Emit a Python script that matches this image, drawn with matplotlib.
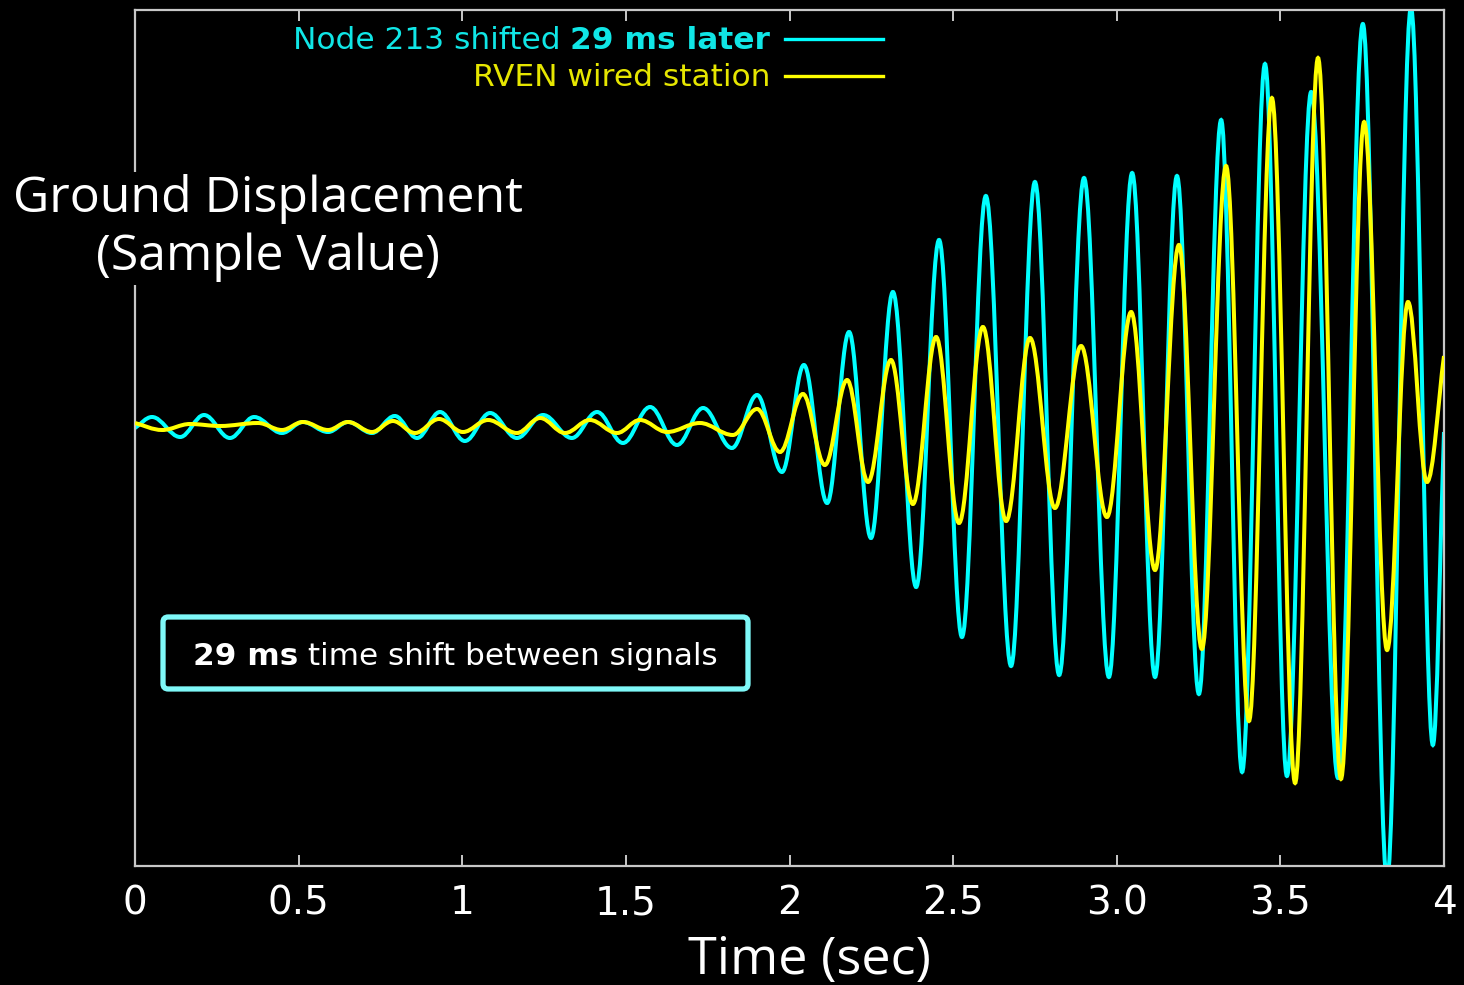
import matplotlib
matplotlib.use('Agg')
import matplotlib.pyplot as plt
from matplotlib.path import Path
from matplotlib.patches import PathPatch, FancyBboxPatch

# ---- data: extrema (peaks / troughs) ----
node_t = [0.000, 0.052, 0.138, 0.211, 0.290, 0.364, 0.449, 0.513, 0.590, 0.651,
          0.724, 0.794, 0.862, 0.932, 1.008, 1.085, 1.167, 1.247, 1.335, 1.412,
          1.491, 1.574, 1.656, 1.736, 1.824, 1.901, 1.977, 2.044, 2.115, 2.182,
          2.249, 2.316, 2.387, 2.457, 2.527, 2.600, 2.677, 2.750, 2.824, 2.900,
          2.976, 3.047, 3.117, 3.184, 3.251, 3.319, 3.383, 3.453, 3.520, 3.594,
          3.676, 3.752, 3.826, 3.899, 3.966, 4.000]
node_v = [-3, 8, -12, 10, -13, 8, -8, 3, -7, 3,
          -8, 9, -13, 13, -16, 12, -13, 10, -13, 13,
          -18, 18, -20, 17, -23, 30, -47, 60, -78, 93,
          -113, 133, -162, 185, -212, 229, -241, 243, -250, 247,
          -252, 252, -252, 249, -269, 305, -347, 361, -351, 333,
          -353, 401, -455, 417, -320, -7]

rven_t = [0.000, 0.083, 0.168, 0.260, 0.376, 0.449, 0.513, 0.590, 0.651, 0.724,
          0.788, 0.856, 0.929, 1.002, 1.079, 1.167, 1.238, 1.314, 1.390, 1.473,
          1.543, 1.626, 1.726, 1.827, 1.901, 1.971, 2.041, 2.108, 2.176, 2.240,
          2.310, 2.377, 2.448, 2.518, 2.591, 2.662, 2.735, 2.811, 2.891, 2.970,
          3.044, 3.117, 3.190, 3.260, 3.334, 3.404, 3.474, 3.545, 3.615, 3.685,
          3.756, 3.826, 3.890, 3.948, 4.000]
rven_v = [2, -5, 1, -1, 2, -5, 3, -5, 3, -7,
          4, -8, 6, -7, 5, -8, 7, -8, 5, -8,
          5, -7, 2, -10, 16, -27, 31, -40, 45, -57,
          65, -79, 88, -98, 98, -96, 87, -83, 79, -92,
          113, -145, 180, -224, 259, -296, 327, -358, 367, -354,
          303, -225, 123, -57, 69]

xticks = [0, 0.5, 1, 1.5, 2, 2.5, 3, 3.5, 4]
xticklabels = ['0', '0.5', '1', '1.5', '2', '2.5', '3.0', '3.5', '4']

label_node = ('Node 213 shifted ', '29 ms later')
label_rven = 'RVEN wired station'
note_bold = '29 ms'
note_rest = ' time shift between signals'

CYAN = '#00FFFF'
YELLOW = '#FFFF00'


def extrema_path(t, v, k=0.364):
    """Smooth Bezier path through successive extrema (flat tangents)."""
    verts = [(t[0], v[0])]
    codes = [Path.MOVETO]
    n = len(t)
    for i in range(n - 1):
        dt = t[i + 1] - t[i]
        if i == 0:
            c1 = (t[i] + dt / 3, v[i] + (v[i + 1] - v[i]) / 3)
        else:
            c1 = (t[i] + k * dt, v[i])
        if i == n - 2:
            c2 = (t[i + 1] - dt / 3, v[i + 1] - (v[i + 1] - v[i]) / 3)
        else:
            c2 = (t[i + 1] - k * dt, v[i + 1])
        verts += [c1, c2, (t[i + 1], v[i + 1])]
        codes += [Path.CURVE4] * 3
    return Path(verts, codes)


fig = plt.figure(figsize=(14.64, 9.85), dpi=100, facecolor='black')
ax = fig.add_axes([135 / 1464, 1 - 866 / 985, 1309 / 1464, 856 / 985])
ax.set_facecolor('black')

ax.add_patch(PathPatch(extrema_path(node_t, node_v), fill=False, edgecolor=CYAN,
                       lw=2.9, transform=ax.transData, zorder=2))
ax.add_patch(PathPatch(extrema_path(rven_t, rven_v), fill=False, edgecolor=YELLOW,
                       lw=2.9, transform=ax.transData, zorder=3))

ax.set_xlim(0, 4)
ax.set_ylim(-441, 415)
ax.set_xticks(xticks)
ax.set_xticklabels(xticklabels)
ax.set_yticks([])
for s in ax.spines.values():
    s.set_color('#C8C8C8')
    s.set_linewidth(1.6)
ax.tick_params(axis='x', direction='in', length=8, width=1.4, color='#C8C8C8',
               top=True, labelcolor='white', labelsize=28, pad=13)

# legend (right-aligned text, line samples)
bold_part = ax.text(0.4851, 0.9649, label_node[1], transform=ax.transAxes,
                    ha='right', va='center', color='#10E6E6', fontsize=22.5,
                    fontweight='bold')
ax.annotate(label_node[0], xy=(0, 0.5), xycoords=bold_part, ha='right', va='center',
            color='#10E6E6', fontsize=22.5)
ax.text(0.4851, 0.9210, label_rven, transform=ax.transAxes, ha='right', va='center',
        color='#E6E600', fontsize=22.5)
ax.plot([0.4966, 0.5714], [0.9661, 0.9661], transform=ax.transAxes, color=CYAN,
        lw=2.4, clip_on=False)
ax.plot([0.4966, 0.5714], [0.9229, 0.9229], transform=ax.transAxes, color=YELLOW,
        lw=2.4, clip_on=False)

# annotation box
bx0, bx1 = 0.0214, 0.4683
by0, by1 = 0.2068, 0.2909
ax.add_patch(FancyBboxPatch((bx0, by0), bx1 - bx0, by1 - by0,
                            boxstyle='round,pad=0,rounding_size=0.004',
                            mutation_aspect=1309 / 856,
                            transform=ax.transAxes, facecolor='black',
                            edgecolor='#7EF8F8', lw=3.8, zorder=5))
nb = ax.text(0.0443, 0.2445, note_bold, transform=ax.transAxes, ha='left',
             va='center', color='white', fontsize=22.4, fontweight='bold', zorder=6)
ax.annotate(note_rest, xy=(1, 0.5), xycoords=nb, ha='left', va='center',
            color='white', fontsize=22.4, zorder=6)

# axis titles
fig.text(268 / 1464, 1 - 228 / 985, 'Ground Displacement\n(Sample Value)',
         ha='center', va='center', multialignment='center', color='white',
         fontsize=36, family='Open Sans', linespacing=1.2,
         bbox=dict(facecolor='black', edgecolor='none', pad=2))
fig.text(810 / 1464, 1 - 960 / 985, 'Time (sec)', ha='center', va='center',
         color='white', fontsize=37.5, family='Open Sans')

fig.savefig('out.png', dpi=100, facecolor='black')
